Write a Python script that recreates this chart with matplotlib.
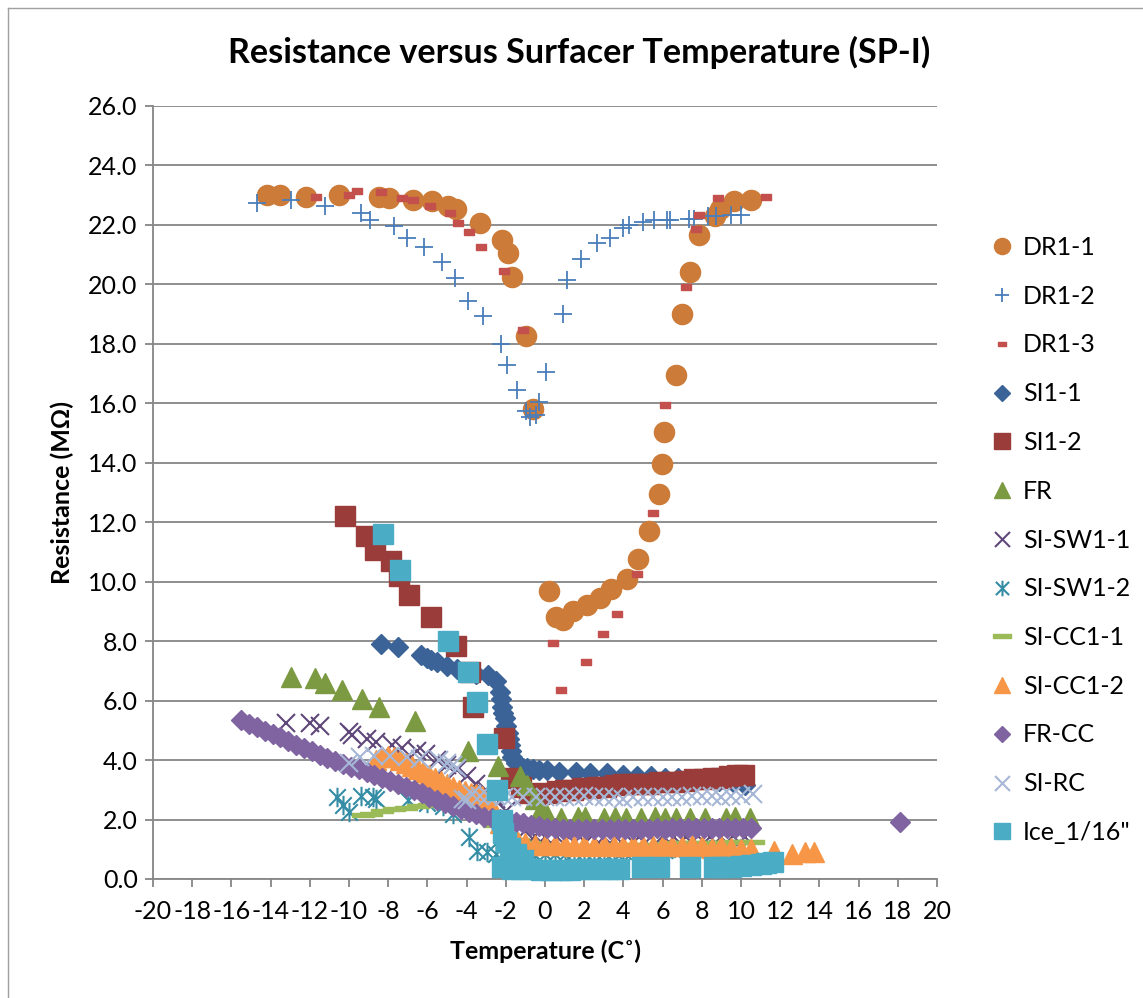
import matplotlib
matplotlib.use("Agg")
import matplotlib.pyplot as plt
from matplotlib.path import Path
from matplotlib.lines import Line2D

plt.rcParams['font.family'] = ['Lato', 'DejaVu Sans']

# ---------------- data (temperature in C, resistance in MOhm) ----------------
dr1_1_x = [-14.2, -13.5, -12.2, -10.5, -8.45, -7.95, -6.75, -5.75, -4.95, -4.55, -3.3, -2.2, -1.9,
           -1.7, -0.95, -0.6, 0.2, 0.55, 0.9, 1.45, 2.15, 2.8, 3.35, 4.2, 4.75, 5.3, 5.8, 5.95, 6.05,
           6.7, 7.0, 7.4, 7.85, 8.65, 8.95, 9.65, 10.5]
dr1_1_y = [23.0, 23.0, 22.95, 23.0, 22.95, 22.9, 22.85, 22.8, 22.65, 22.55, 22.05, 21.5, 21.05,
           20.25, 18.25, 15.8, 9.7, 8.8, 8.7, 9.0, 9.2, 9.45, 9.75, 10.1, 10.75, 11.7, 12.95, 13.95, 15.05,
           16.95, 19.0, 20.4, 21.65, 22.3, 22.55, 22.8, 22.85]

dr1_2_x = [-14.7, -12.95, -11.2, -9.4, -8.95, -7.7, -7.05, -6.15, -5.25, -4.6, -3.95, -3.15, -2.25,
           -1.95, -1.45, -0.95, -0.75, -0.45, -0.3, 0.05, 0.9, 1.1, 1.85, 2.65, 3.3, 4.0, 4.3, 5.0,
           5.55, 6.2, 6.4, 7.35, 7.6, 8.3, 8.7, 9.5, 10.0]
dr1_2_y = [22.75, 22.85, 22.65, 22.4, 22.15, 21.95, 21.55, 21.25, 20.75, 20.2, 19.45, 18.95, 18.0,
           17.3, 16.45, 15.75, 15.55, 15.6, 16.05, 17.05, 19.0, 20.15, 20.85, 21.4, 21.55, 21.9, 22.0, 22.1,
           22.15, 22.15, 22.15, 22.2, 22.2, 22.3, 22.3, 22.35, 22.35]

dr1_3_x = [-11.7, -10.0, -9.6, -8.35, -7.3, -6.75, -5.85, -4.85, -4.45, -3.9, -3.25, -2.1, -1.1,
           0.4, 0.8, 2.1, 2.95, 3.65, 4.7, 5.5, 6.1, 7.2, 7.7, 7.85, 8.85, 11.3]
dr1_3_y = [22.95, 23.0, 23.15, 23.1, 22.9, 22.85, 22.65, 22.4, 22.05, 21.75, 21.25, 20.45, 18.45,
           7.95, 6.35, 7.3, 8.25, 8.9, 10.25, 12.3, 15.95, 19.9, 21.85, 22.35, 22.9, 22.95]

si1_1_x = [-8.35, -7.5, -6.35, -6.0, -5.8, -5.5, -5.0, -4.5, -4.1, -3.5, -2.9, -2.5, -2.3, -2.25,
           -2.2, -2.15, -2.05, -2.0, -1.9, -1.85, -1.8, -1.75, -1.7, -1.5, -1.3, -1.1, -0.9, -0.6,
           -0.3, 0.1, 0.7, 1.6, 2.3, 3.15, 4.0, 4.7, 5.4, 6.1, 6.8, 7.5, 8.2, 8.9, 9.6, 10.2]
si1_1_y = [7.9, 7.8, 7.55, 7.45, 7.35, 7.3, 7.15, 7.05, 6.95, 6.9, 6.85, 6.65, 6.3, 6.05,
           5.8, 5.6, 5.4, 5.15, 4.9, 4.7, 4.5, 4.3, 4.1, 3.9, 3.8, 3.75, 3.72, 3.7,
           3.68, 3.65, 3.6, 3.6, 3.55, 3.55, 3.5, 3.45, 3.45, 3.4, 3.4, 3.35, 3.35, 3.3, 3.25, 3.15]

si1_2_x = [-10.2, -9.15, -8.65, -7.85, -7.45, -6.95, -5.8, -4.55, -3.85, -3.65, -2.1, -1.75, -1.2,
           -0.8, -0.3, 0.2, 0.6, 1.0, 1.45, 1.9, 2.3, 2.65, 3.1, 3.55, 4.0, 4.45, 4.9, 5.35, 5.8,
           6.25, 6.7, 7.15, 7.6, 8.1, 8.55, 9.0, 9.4, 9.8, 10.15]
si1_2_y = [12.2, 11.55, 11.05, 10.7, 10.2, 9.55, 8.8, 7.85, 6.95, 5.8, 4.75, 3.4, 3.1,
           2.9, 2.85, 2.9, 2.95, 3.0, 3.0, 3.05, 3.05, 3.1, 3.1, 3.15, 3.2, 3.2, 3.2, 3.2, 3.25,
           3.25, 3.25, 3.3, 3.35, 3.35, 3.4, 3.4, 3.45, 3.5, 3.5]

fr_x = [-12.95, -11.75, -11.2, -10.35, -9.35, -8.45, -6.65, -3.95, -2.4, -1.3, -0.9, -0.5, -0.2,
        0.1, 0.8, 1.7, 2.05, 3.0, 3.55, 4.15, 4.9, 5.6, 6.1, 6.7, 7.4, 8.15, 9.25, 9.7, 10.45]
fr_y = [6.8, 6.75, 6.6, 6.35, 6.05, 5.8, 5.3, 4.3, 3.8, 3.45, 3.15, 2.7, 2.35,
        2.15, 2.05, 2.1, 2.1, 2.05, 2.1, 2.05, 2.05, 2.1, 2.05, 2.05, 2.05, 2.05, 2.05, 2.1, 2.05]

si_sw1_1_x = [-13.2, -12.0, -11.5, -10.0, -9.85, -9.1, -8.6, -7.8, -7.3, -6.55, -6.05, -5.5, -5.0,
              -4.5, -4.0, -3.5, -3.0, -2.5, -2.0, -1.5, -1.0, -0.5, 0.0, 0.6, 1.2, 1.8, 2.4, 3.0,
              3.6, 4.2, 4.8, 5.4, 6.0, 6.6, 7.2, 7.8, 8.4, 9.0, 9.6, 10.2]
si_sw1_1_y = [5.25, 5.25, 5.15, 4.95, 4.85, 4.7, 4.6, 4.5, 4.4, 4.3, 4.2, 4.0, 3.85,
              3.65, 3.45, 3.2, 3.0, 2.7, 2.3, 1.9, 1.6, 1.45, 1.4, 1.4, 1.4, 1.4, 1.45, 1.4,
              1.4, 1.45, 1.4, 1.4, 1.45, 1.4, 1.4, 1.45, 1.4, 1.4, 1.45, 1.4]

si_sw1_2_x = [-10.6, -10.3, -10.0, -9.4, -8.8, -8.6, -7.0, -6.0, -5.2, -4.7, -3.9, -3.45, -2.95,
              -2.5, -2.0, -1.5, -1.0, -0.5, 0.0, 0.5, 1.0, 1.5, 2.0, 2.5, 3.0, 3.5, 4.0, 4.5, 5.0,
              5.5, 6.0, 6.5, 7.0, 7.5, 8.0, 8.5, 9.0, 9.5, 10.0]
si_sw1_2_y = [2.75, 2.5, 2.25, 2.8, 2.75, 2.7, 2.65, 2.55, 2.45, 2.2, 1.4, 0.95, 0.9,
              0.85, 0.8, 0.8, 0.8, 0.8, 0.85, 0.85, 0.85, 0.9, 0.9, 0.9, 0.9, 0.95, 0.95, 0.95, 0.95,
              1.0, 1.0, 1.0, 1.0, 1.0, 1.05, 1.05, 1.05, 1.05, 1.05]

si_cc1_1_x = [-9.3, -8.9, -8.3, -7.7, -7.1, -6.5, -5.9, -5.3, -4.7, -4.0, -3.3, -2.6, -2.0, -1.4,
              -0.8, -0.2, 0.4, 1.0, 1.6, 2.2, 2.8, 3.4, 4.0, 4.6, 5.2, 5.8, 6.4, 7.0, 7.6, 8.2,
              8.8, 9.4, 10.0, 10.6]
si_cc1_1_y = [2.15, 2.2, 2.3, 2.35, 2.4, 2.45, 2.5, 2.5, 2.4, 2.3, 2.1, 1.8, 1.5, 1.3,
              1.2, 1.15, 1.1, 1.1, 1.1, 1.1, 1.1, 1.15, 1.15, 1.15, 1.15, 1.15, 1.2, 1.2, 1.2, 1.2,
              1.2, 1.25, 1.25, 1.25]

si_cc1_2_x = [-8.6, -8.3, -8.0, -7.7, -7.4, -7.1, -6.8, -6.5, -6.2, -5.9, -5.6, -5.3, -5.0, -4.7,
              -4.4, -4.1, -3.8, -3.5, -3.2, -2.9, -2.6, -2.3, -2.0, -1.7, -1.4, -1.0, -0.5, 0.0,
              0.5, 1.0, 1.5, 2.0, 2.5, 3.0, 3.5, 4.0, 4.5, 5.0, 5.5, 6.0, 6.5, 7.0, 7.5, 8.0,
              8.5, 9.0, 9.5, 10.0, 10.5, 11.7, 12.6, 13.25, 13.7]
si_cc1_2_y = [4.0, 4.1, 4.15, 4.1, 4.0, 3.9, 3.8, 3.7, 3.6, 3.5, 3.4, 3.3, 3.2, 3.1,
              3.0, 2.95, 2.9, 2.85, 2.8, 2.7, 2.3, 1.9, 1.6, 1.35, 1.25, 1.2, 1.15, 1.15,
              1.15, 1.15, 1.1, 1.15, 1.1, 1.15, 1.1, 1.1, 1.15, 1.1, 1.1, 1.15, 1.1, 1.1, 1.15, 1.1,
              1.05, 1.1, 1.05, 1.0, 1.0, 0.95, 0.85, 0.9, 0.9]

fr_cc_x = [-15.5, -15.1, -14.7, -14.3, -13.9, -13.5, -13.1, -12.7, -12.3, -11.9, -11.5, -11.1,
           -10.7, -10.3, -9.9, -9.5, -9.1, -8.7, -8.3, -7.9, -7.5, -7.1, -6.7, -6.3, -5.9, -5.5,
           -5.1, -4.7, -4.3, -3.9, -3.5, -3.1, -2.7, -2.3, -1.9, -1.5, -1.1, -0.7, -0.3, 0.1,
           0.5, 0.9, 1.3, 1.7, 2.1, 2.5, 2.9, 3.3, 3.7, 4.1, 4.5, 4.9, 5.3, 5.7, 6.1, 6.5,
           6.9, 7.3, 7.7, 8.1, 8.5, 8.9, 9.3, 9.7, 10.1, 10.5, 18.1]
fr_cc_y = [5.35, 5.23, 5.11, 4.99, 4.87, 4.76, 4.64, 4.52, 4.41, 4.29, 4.18, 4.08,
           3.98, 3.88, 3.78, 3.69, 3.59, 3.49, 3.39, 3.30, 3.19, 3.09, 2.98, 2.88, 2.77, 2.67,
           2.56, 2.46, 2.36, 2.26, 2.17, 2.10, 2.06, 2.02, 1.98, 1.93, 1.88, 1.82, 1.77, 1.72,
           1.70, 1.68, 1.68, 1.67, 1.68, 1.68, 1.67, 1.68, 1.68, 1.69, 1.69, 1.68, 1.69, 1.70, 1.69, 1.70,
           1.70, 1.70, 1.71, 1.70, 1.71, 1.71, 1.71, 1.72, 1.72, 1.70, 1.91]

si_rc_x = [-10.0, -9.45, -8.75, -7.9, -7.05, -6.4, -5.4, -5.0, -4.7, -4.5, -4.2, -4.0, -3.7, -3.3,
           -2.9, -2.5, -2.1, -1.7, -1.1, -0.45, 0.0, 0.5, 1.0, 1.5, 2.0, 2.5, 3.0, 3.5, 4.0, 4.5,
           5.0, 5.5, 6.0, 6.5, 7.0, 7.5, 8.0, 8.5, 9.0, 9.5, 10.0, 10.6]
si_rc_y = [3.9, 4.1, 4.15, 4.15, 4.1, 4.05, 4.0, 3.9, 3.85, 3.75, 2.7, 2.65, 2.85, 2.8,
           2.8, 2.8, 2.75, 2.75, 2.75, 2.75, 2.75, 2.75, 2.75, 2.75, 2.8, 2.75, 2.75, 2.75, 2.7, 2.75,
           2.75, 2.75, 2.75, 2.75, 2.75, 2.8, 2.8, 2.8, 2.75, 2.8, 2.8, 2.85]

ice_x = [-8.25, -7.4, -4.95, -3.95, -3.45, -2.95, -2.45, -2.2, -2.15, -2.0, -1.8, -1.5, -1.1,
         -2.2, -1.7, -1.2, -0.7, -0.2, 0.3, 0.8, 1.3, 1.8, 2.3, 2.8, 3.3, 3.8, 4.95, 5.8, 7.4,
         8.6, 9.0, 9.5, 10.0, 10.5, 11.0, 11.3, 11.65]
ice_y = [11.6, 10.4, 8.0, 6.95, 5.95, 4.55, 3.0, 2.0, 1.55, 1.25, 1.05, 0.85, 0.65,
         0.4, 0.35, 0.35, 0.35, 0.3, 0.3, 0.3, 0.3, 0.35, 0.35, 0.35, 0.35, 0.35, 0.4, 0.4, 0.4,
         0.4, 0.42, 0.42, 0.45, 0.48, 0.5, 0.55, 0.58]

x_ticks = list(range(-20, 21, 2))
y_ticks = [0, 2, 4, 6, 8, 10, 12, 14, 16, 18, 20, 22, 24, 26]

# ---------------- marker shapes ----------------
short_dash = Path([(-1, -0.5), (1, -0.5), (1, 0.5), (-1, 0.5), (-1, -0.5)])
long_dash = Path([(-1, -0.22), (1, -0.22), (1, 0.22), (-1, 0.22), (-1, -0.22)])
asterisk = Path([(-0.85, -0.85), (0.85, 0.85), (-0.85, 0.85), (0.85, -0.85), (0, -1), (0, 1)],
                [Path.MOVETO, Path.LINETO, Path.MOVETO, Path.LINETO, Path.MOVETO, Path.LINETO])

series = [
    ("DR1-1", dr1_1_x, dr1_1_y, dict(marker='o', ms=14.5, color='#CC7B38')),
    ("DR1-2", dr1_2_x, dr1_2_y, dict(marker='+', ms=13, mew=1.3, color='#4A7EBB')),
    ("DR1-3", dr1_3_x, dr1_3_y, dict(marker=short_dash, ms=7.5, color='#C4504D')),
    ("SI1-1", si1_1_x, si1_1_y, dict(marker='D', ms=10.3, color='#3B6397')),
    ("SI1-2", si1_2_x, si1_2_y, dict(marker='s', ms=14, color='#9A3C3A')),
    ("FR", fr_x, fr_y, dict(marker='^', ms=14, color='#7B9A41')),
    ("SI-SW1-1", si_sw1_1_x, si_sw1_1_y, dict(marker='x', ms=13.5, mew=1.5, color='#5F4879')),
    ("SI-SW1-2", si_sw1_2_x, si_sw1_2_y, dict(marker=asterisk, ms=14, mew=1.5, color='#348DA5',
                                             mfc='none')),
    ("SI-CC1-1", si_cc1_1_x, si_cc1_1_y, dict(marker=long_dash, ms=16, color='#9BBB59')),
    ("SI-CC1-2", si_cc1_2_x, si_cc1_2_y, dict(marker='^', ms=14, color='#F79646')),
    ("FR-CC", fr_cc_x, fr_cc_y, dict(marker='D', ms=10.3, color='#8064A2')),
    ("SI-RC", si_rc_x, si_rc_y, dict(marker='x', ms=13.5, mew=1.5, color='#A6B7D6')),
    ("Ice_1/16\"", ice_x, ice_y, dict(marker='s', ms=14, color='#4BACC6')),
]

fig = plt.figure(figsize=(11.43, 9.98), dpi=100)
ax = fig.add_axes([153 / 1143, 1 - 879 / 998, (937 - 153) / 1143, (879 - 106) / 998])

for i, (name, xs, ys, style) in enumerate(series):
    kw = dict(linestyle='none', label=name, zorder=3 + i, clip_on=False)
    kw.update(style)
    col = kw.pop('color')
    kw.setdefault('mfc', col)
    kw['mec'] = col
    ax.plot(xs, ys, **kw)

grid_col = '#868686'
ax.set_xlim(-20, 20)
ax.set_ylim(0, 26)
ax.set_xticks(x_ticks)
ax.set_xticklabels([str(t) for t in x_ticks])
ax.set_yticks(y_ticks)
ax.set_yticklabels([f"{t:.1f}" for t in y_ticks])
ax.yaxis.grid(True, color=grid_col, linewidth=1.3)
ax.set_axisbelow(True)
for side in ('top', 'right'):
    ax.spines[side].set_visible(False)
for side in ('left', 'bottom'):
    ax.spines[side].set_color(grid_col)
    ax.spines[side].set_linewidth(1.3)
ax.tick_params(axis='both', colors=grid_col, labelcolor='black', labelsize=18,
               length=6, width=1.3, direction='out')
ax.tick_params(axis='x', pad=9)
ax.tick_params(axis='y', pad=5)

ax.set_xlabel("Temperature (C\u02da)", fontsize=18, fontweight='bold', labelpad=12)
ax.set_ylabel("Resistance (M\u03a9)", fontsize=18, fontweight='bold', labelpad=10)
fig.text(579 / 1143, 1 - 52 / 998, "Resistance versus Surfacer Temperature (SP-I)",
         ha='center', va='center', fontsize=24.6, fontweight='bold')

ax.legend(loc='upper left', bbox_to_anchor=(989 / 1143, 1 - 236 / 998),
          bbox_transform=fig.transFigure, frameon=False, fontsize=18,
          labelspacing=1.03, handlelength=1.0, handletextpad=0.35, markerscale=0.8,
          borderpad=0, borderaxespad=0)

# outer chart border
fig.add_artist(Line2D([7.5 / 1143, 7.5 / 1143], [0, 1 - 7.5 / 998], color='#A0A0A0', lw=1.0,
                      transform=fig.transFigure))
fig.add_artist(Line2D([7.5 / 1143, 1], [1 - 7.5 / 998, 1 - 7.5 / 998], color='#A0A0A0', lw=1.0,
                      transform=fig.transFigure))

fig.savefig("out.png", dpi=100)
